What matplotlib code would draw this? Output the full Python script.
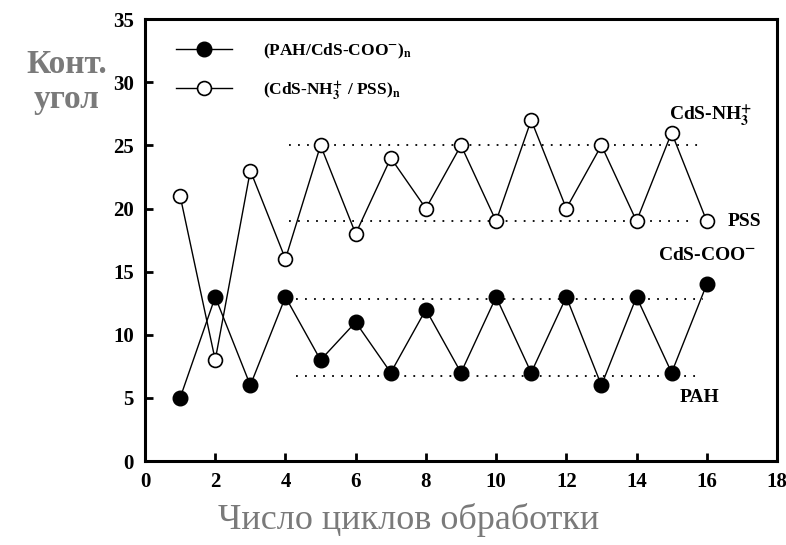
import matplotlib
matplotlib.use("Agg")
import matplotlib.pyplot as plt

cycles = list(range(1, 17))
pah_cds_coo = [5, 13, 6, 13, 8, 11, 7, 12, 7, 13, 7, 13, 6, 13, 7, 14]
cds_nh3_pss = [21, 8, 23, 16, 25, 18, 24, 20, 25, 19, 27, 20, 25, 19, 26, 19]
ref_levels = [25, 19, 12.8, 6.7]
ref_starts = [4.1, 4.1, 4.3, 4.3]
ref_ends = [15.9, 15.6, 15.9, 15.8]
xticks = list(range(0, 19, 2))
yticks = list(range(0, 36, 5))

plt.rcParams['font.family'] = ['Liberation Serif', 'DejaVu Serif']
plt.rcParams['mathtext.fontset'] = 'stix'

fig = plt.figure(figsize=(7.86, 5.45), dpi=100)
ax = fig.add_axes([0.1845, 0.154, 0.804, 0.811])

for lv, s, e in zip(ref_levels, ref_starts, ref_ends):
    ax.plot([s, e], [lv, lv], linestyle=(0, (1, 4)), color='black', lw=1.3)

l1, = ax.plot(cycles, pah_cds_coo, '-', color='black', lw=1.0, marker='o',
              markersize=10.5, markerfacecolor='black', markeredgecolor='black',
              label=r'(PAH/CdS-COO$^{\mathbf{-}}$)$_{\mathbf{n}}$')
l2, = ax.plot(cycles, cds_nh3_pss, '-', color='black', lw=1.0, marker='o',
              markersize=10, markerfacecolor='white', markeredgecolor='black',
              markeredgewidth=1.2,
              label=r'(CdS-NH$_{\mathbf{3}}^{\mathbf{+}}$ / PSS)$_{\mathbf{n}}$')

ax.set_xlim(0, 18)
ax.set_ylim(0, 35)
ax.set_xticks(xticks)
ax.set_yticks(yticks)
ax.tick_params(direction='in', length=6, width=2, labelsize=15, pad=8)
for lab in ax.get_xticklabels() + ax.get_yticklabels():
    lab.set_fontweight('bold')
for sp in ax.spines.values():
    sp.set_linewidth(2.2)

leg = ax.legend(handles=[l1, l2], loc='upper left', bbox_to_anchor=(0.025, 0.985),
                frameon=False, prop={'weight': 'bold', 'size': 12.5},
                handlelength=3.2, handletextpad=1.8, labelspacing=1.05)

ax.text(16.1, 26.4, r'CdS-NH$_{\mathbf{3}}^{\mathbf{+}}$', fontsize=14,
        fontweight='bold', ha='center', va='bottom')
ax.text(16.6, 19, 'PSS', fontsize=14, fontweight='bold', ha='left', va='center')
ax.text(16.0, 15.6, r'CdS-COO$^{\mathbf{-}}$', fontsize=14, fontweight='bold',
        ha='center', va='bottom')
ax.text(15.8, 5.0, 'PAH', fontsize=14, fontweight='bold', ha='center', va='center')

fig.text(0.085, 0.85, 'Конт.\nугол', fontsize=24, color='#7a7a7a', fontweight='bold',
         ha='center', va='center', linespacing=1.15)
fig.text(0.52, 0.045, 'Число циклов обработки', fontsize=26, color='#7a7a7a',
         ha='center', va='center')

fig.savefig('out.png', dpi=100)
